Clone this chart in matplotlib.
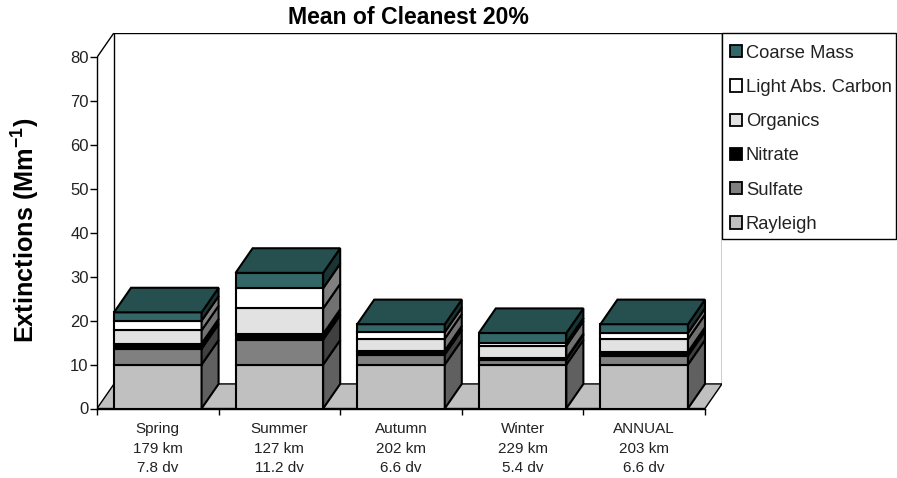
import matplotlib
matplotlib.use('Agg')
import matplotlib.pyplot as plt
from matplotlib.patches import Polygon, Patch, Rectangle
import numpy as np

plt.rcParams['font.family'] = ['Liberation Sans', 'DejaVu Sans']
plt.rcParams['mathtext.fontset'] = 'custom'
plt.rcParams['mathtext.bf'] = 'Liberation Sans:bold'
plt.rcParams['mathtext.rm'] = 'Liberation Sans'

seasons = ['Spring', 'Summer', 'Autumn', 'Winter', 'ANNUAL']
visual_range = ['179 km', '127 km', '202 km', '229 km', '203 km']
deciview = ['7.8 dv', '11.2 dv', '6.6 dv', '5.4 dv', '6.6 dv']

species = ['Rayleigh', 'Sulfate', 'Nitrate', 'Organics', 'Light Abs. Carbon', 'Coarse Mass']
rayleigh = [10, 10, 10, 10, 10]
sulfate = [3.6, 5.7, 2.3, 1.15, 2.0]
nitrate = [1.2, 1.3, 0.9, 0.3, 0.9]
organics = [3.0, 5.8, 2.7, 2.85, 2.9]
lac = [2.2, 4.6, 1.5, 0.7, 1.4]
coarse = [1.9, 3.5, 1.8, 2.2, 2.0]

front_colors = ['#c0c0c0', '#808080', '#000000', '#e2e2e2', '#ffffff', '#336666']
side_colors = ['#606060', '#404040', '#000000', '#717171', '#808080', '#1a3333']
top_color = '#265050'

# depth of the box, in data units
dx = 0.14
dy = 5.6
bar_w = 0.72

fig = plt.figure(figsize=(8.97, 4.78), dpi=100)
ax = fig.add_axes([97 / 897, (478 - 408.5) / 478, (722 - 97) / 897, (408.5 - 32.7) / 478])
ax.set_xlim(0, 5 + dx)
ax.set_ylim(0, 80 + dy)
ax.patch.set_visible(False)

# floor and back wall
ax.add_patch(Polygon([(0, 0), (5, 0), (5 + dx, dy), (dx, dy)], fc='#c0c0c0', ec='k', lw=1, zorder=1))
ax.plot([dx, dx, 5 + dx, 5 + dx], [dy, 80 + dy, 80 + dy, dy], color='k', lw=1, zorder=1)
ax.plot([0, dx], [80, 80 + dy], color='k', lw=1, zorder=1)

stack = np.array([rayleigh, sulfate, nitrate, organics, lac, coarse], dtype=float)
bottoms = np.vstack([np.zeros(5), np.cumsum(stack, axis=0)[:-1]])
for i in range(5):
    x0 = i + 0.5 - bar_w / 2
    x1 = i + 0.5 + bar_w / 2
    for s in range(6):
        b = bottoms[s, i]
        t = b + stack[s, i]
        ax.add_patch(Polygon([(x0, b), (x1, b), (x1, t), (x0, t)],
                             fc=front_colors[s], ec='k', lw=1.5, zorder=3))
        ax.add_patch(Polygon([(x1, b), (x1 + dx, b + dy), (x1 + dx, t + dy), (x1, t)],
                             fc=side_colors[s], ec='k', lw=1.5, zorder=3))
    ax.add_patch(Polygon([(x0, t), (x1, t), (x1 + dx, t + dy), (x0 + dx, t + dy)],
                         fc=top_color, ec='k', lw=1.5, zorder=3))

for side in ['top', 'right']:
    ax.spines[side].set_visible(False)
ax.spines['left'].set_bounds(0, 80)
ax.spines['bottom'].set_bounds(0, 5)
ax.spines['left'].set_linewidth(1)
ax.spines['bottom'].set_linewidth(1)

ax.set_yticks(np.arange(0, 81, 10))
ax.tick_params(axis='y', length=5, width=1, pad=1, labelsize=12, labelcolor='#222222')
ax.set_xticks(np.arange(0, 6))
ax.set_xticklabels([])
ax.set_xticks(np.arange(5) + 0.5, minor=True)
ax.set_xticklabels([f'{a}\n{b}\n{c}' for a, b, c in zip(seasons, visual_range, deciview)],
                   minor=True, fontsize=11, linespacing=1.53, color='#222222')
ax.tick_params(axis='x', which='major', length=4, width=1)
ax.tick_params(axis='x', which='minor', length=0, pad=9.5)

fig.text(408 / 897, 1 - 17 / 478, 'Mean of Cleanest 20%', ha='center', va='center',
         fontsize=16.6, fontweight='bold')
fig.text(26 / 897, 1 - 230 / 478, r'Extinctions (Mm$^{\mathbf{-1}}$)', rotation=90,
         ha='center', va='center', fontsize=18.2, fontweight='bold')

# legend frame is drawn separately so the rows can sit lower inside it
fig.add_artist(Rectangle((722 / 897, 1 - 239 / 478), 174 / 897, 206 / 478,
                         transform=fig.transFigure, fc='white', ec='k', lw=1))

# legend reads top to bottom from the uppermost layer down
handles = [Patch(fc=front_colors[s], ec='k', lw=1.3, label=species[s]) for s in range(5, -1, -1)]
fig.legend(handles=handles, loc='upper left',
           bbox_to_anchor=(722 / 897, 1 - 37 / 478), borderaxespad=0,
           fontsize=13.2, labelcolor='#222222', frameon=False,
           labelspacing=0.94, handlelength=0.66, handleheight=0.66,
           handletextpad=0.22, borderpad=0.42)

fig.savefig('out.png', dpi=100)
